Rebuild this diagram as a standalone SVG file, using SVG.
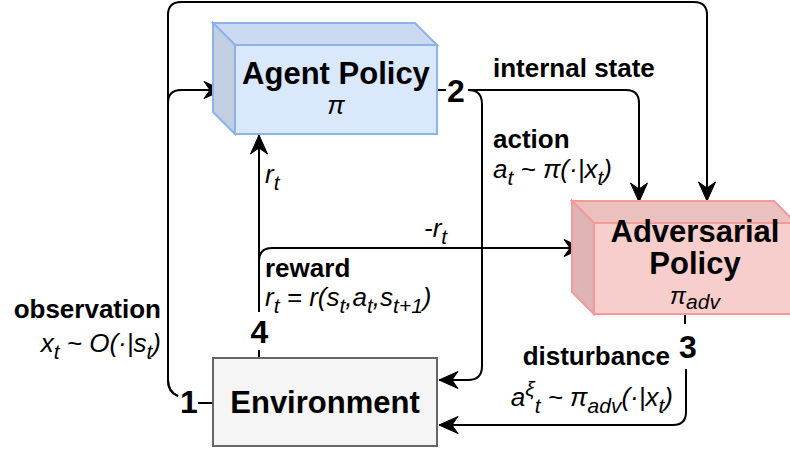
<svg xmlns="http://www.w3.org/2000/svg" width="790" height="452" viewBox="0 0 790 452">
<defs>
<style>
.edge{fill:none;stroke:#000;stroke-width:2}
.lbl{font-family:"Liberation Sans",Arial,sans-serif;fill:#000}
.b{font-weight:bold}
.i{font-style:italic}
.title{font-family:"Liberation Sans",Arial,sans-serif;font-weight:bold;font-size:31px;fill:#000;text-anchor:middle}
.num{font-family:"Liberation Sans",Arial,sans-serif;font-weight:bold;font-size:32px;fill:#000;text-anchor:middle}
</style>
<marker id="arr" markerUnits="userSpaceOnUse" viewBox="-20 -10 21 20" refX="0" refY="0" markerWidth="21" markerHeight="20" orient="auto">
<path d="M0,0 L-19,-8.5 L-13,0 L-19,8.5 Z" fill="#000" stroke="#000" stroke-width="1"/>
</marker>
</defs>
<rect width="790" height="452" fill="#fff"/>

<g id="connectors">
<path class="edge" d="M178,396 Q168,392 168,380 L168,15 Q168,2 181,2 L694,2 Q707,2 707,15 L707,201" marker-end="url(#arr)"/>
<path class="edge" d="M178,396 Q168,392 168,380 L168,103 Q168,90 181,90 L223,90" marker-end="url(#arr)"/>
<line class="edge" x1="198" y1="403" x2="213" y2="403"/>
<line class="edge" x1="437" y1="90" x2="446" y2="90"/>
<path class="edge" d="M468,90 L626,90 Q639,90 639,103 L639,202" marker-end="url(#arr)"/>
<path class="edge" d="M468,90 Q482,90 482,104 L482,366 Q482,380 468,380 L439,380" marker-end="url(#arr)"/>
<line class="edge" x1="259" y1="350" x2="259" y2="358"/>
<path class="edge" d="M259,312 L259,135" marker-end="url(#arr)"/>
<path class="edge" d="M259,312 L259,261 Q259,248 272,248 L583,248" marker-end="url(#arr)"/>
<line class="edge" x1="685" y1="314" x2="685" y2="324"/>
<path class="edge" d="M686,369 L686,412 Q686,425 673,425 L439,425" marker-end="url(#arr)"/>
</g>

<g id="agent-policy">
<polygon points="213,23 415,23 437,45 235,45" fill="#cbdaf0" stroke="#8db3ec" stroke-width="2"/>
<polygon points="213,23 235,45 235,134 213,112" fill="#c2cfe2" stroke="#8db3ec" stroke-width="2"/>
<rect x="235" y="45" width="202" height="89" fill="#dae8fc" stroke="#8db3ec" stroke-width="2"/>
<text class="title" x="336" y="84">Agent Policy</text>
<text class="lbl i" x="336" y="114" font-size="26" text-anchor="middle">π</text>
</g>

<g id="adversarial-policy">
<polygon points="572,201 774,201 796,223 594,223" fill="#ebc1c0" stroke="#f19c99" stroke-width="2"/>
<polygon points="572,201 594,223 594,314 572,292" fill="#dfb4b4" stroke="#f19c99" stroke-width="2"/>
<rect x="594" y="223" width="202" height="91" fill="#f8cecc" stroke="#f19c99" stroke-width="2"/>
<text class="title" x="695" y="242" font-size="30">Adversarial</text>
<text class="title" x="695" y="274" font-size="30">Policy</text>
<text class="lbl i" x="695" y="304" font-size="24" text-anchor="middle">π<tspan font-size="21" dy="5">adv</tspan></text>
</g>

<g id="environment">
<rect x="213" y="358" width="224" height="88" fill="#f5f5f5" stroke="#666666" stroke-width="2"/>
<text class="title" x="325" y="413">Environment</text>
</g>

<g id="labels">
<text class="num" x="189" y="413">1</text>
<text class="num" x="456" y="102">2</text>
<text class="num" x="688" y="358">3</text>
<text class="num" x="259.5" y="343">4</text>

<text class="lbl b" x="493" y="77" font-size="26">internal state</text>
<text class="lbl b" x="493" y="148" font-size="26">action</text>
<text class="lbl i" x="493" y="178" font-size="26">a<tspan font-size="21" dy="7">t</tspan><tspan dy="-7"> ~ π(·|x</tspan><tspan font-size="21" dy="7">t</tspan><tspan dy="-7">)</tspan></text>

<text class="lbl i" x="265" y="183" font-size="26">r<tspan font-size="21" dy="7">t</tspan></text>
<text class="lbl i" x="424" y="237" font-size="26">-r<tspan font-size="21" dy="7">t</tspan></text>

<text class="lbl b" x="265" y="277" font-size="26">reward</text>
<text class="lbl i" x="265" y="306" font-size="26">r<tspan font-size="21" dy="7">t</tspan><tspan dy="-7"> = r(s</tspan><tspan font-size="21" dy="7">t</tspan><tspan dy="-7">,a</tspan><tspan font-size="21" dy="7">t</tspan><tspan dy="-7">,s</tspan><tspan font-size="21" dy="7">t+1</tspan><tspan dy="-7">)</tspan></text>

<text class="lbl b" x="161" y="318" font-size="26" text-anchor="end">observation</text>
<text class="lbl i" x="161" y="352" font-size="26" text-anchor="end">x<tspan font-size="21" dy="7">t</tspan><tspan dy="-7"> ~ O(·|s</tspan><tspan font-size="21" dy="7">t</tspan><tspan dy="-7">)</tspan></text>

<text class="lbl b" x="670" y="365" font-size="26" text-anchor="end">disturbance</text>
<text class="lbl i" x="673" y="406" font-size="26" text-anchor="end">a<tspan font-size="21" dy="-10">ξ</tspan><tspan font-size="21" dy="17">t</tspan><tspan dy="-7"> ~ π</tspan><tspan font-size="21" dy="7">adv</tspan><tspan dy="-7">(·|x</tspan><tspan font-size="21" dy="7">t</tspan><tspan dy="-7">)</tspan></text>
</g>
</svg>
